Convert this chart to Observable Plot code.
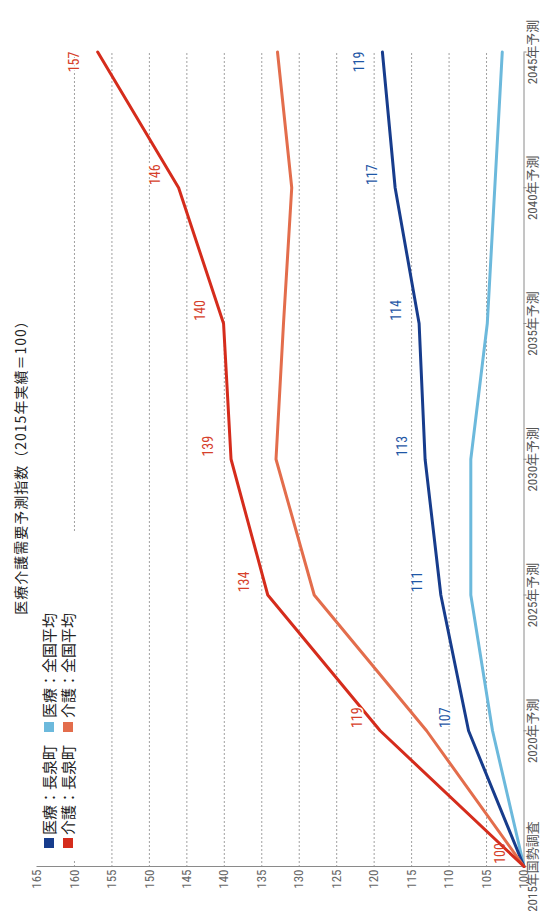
<!DOCTYPE html>
<html>
<head>
<meta charset="utf-8">
<script src="https://cdn.jsdelivr.net/npm/d3@7"></script>
<script src="https://cdn.jsdelivr.net/npm/@observablehq/plot@0.6"></script>
<style>
html, body { margin: 0; padding: 0; background: #fff; overflow: hidden; width: 541px; height: 911px; }
#wrap { position: absolute; left: 0; top: 0; width: 911px; height: 541px; transform-origin: 0 0; transform: translate(0px, 911px) rotate(-90deg); background: #fff; }
#wrap svg { position: absolute; left: 0; top: 0; }
#title { position: absolute; left: 44px; width: 806px; top: 10px; line-height: 20px; text-align: center; font-family: "Noto Sans CJK JP", sans-serif; font-size: 14px; letter-spacing: 1px; color: #222; }
#legend { position: absolute; left: 52px; top: 40px; width: 326px; height: 38px; background: #fff; font-family: "Noto Sans CJK JP", sans-serif; font-size: 15px; color: #222; }
#legend .sw { position: absolute; width: 10px; height: 10px; }
#legend .lb { position: absolute; line-height: 18px; white-space: nowrap; }
</style>
</head>
<body>
<div id="wrap">
  <div id="chart"></div>
  <div id="title"></div>
  <div id="legend"></div>
</div>
<script>
// ---- data ----
const years = [2015, 2020, 2025, 2030, 2035, 2040, 2045];
const yearLabels = ["2015年国勢調査", "2020年予測", "2025年予測", "2030年予測", "2035年予測", "2040年予測", "2045年予測"];
const valueTicks = [100, 105, 110, 115, 120, 125, 130, 135, 140, 145, 150, 155, 160, 165];
const gridTicks = [105, 110, 115, 120, 125, 130, 135, 140, 145, 150, 155, 160];

const titleText = "医療介護需要予測指数（2015年実績＝100）";
const seriesNames = ["医療：長泉町", "医療：全国平均", "介護：長泉町", "介護：全国平均"];
const seriesColors = ["#173c8c", "#6cb9dc", "#d52c1c", "#e36d4c"];
const labelColors = ["#1f57a6", "#d6402a"];

const iryoNagaizumi  = [100, 107.4, 111.1, 113.2, 114.0, 117.2, 118.9];
const iryoZenkoku    = [100, 104.2, 107.1, 107.1, 104.9, 103.9, 102.9];
const kaigoNagaizumi = [100, 119.2, 134.2, 139.1, 140.1, 146.1, 156.9];
const kaigoZenkoku   = [100, 113.0, 128.0, 133.1, 132.1, 131.0, 132.9];

const iryoNagaizumiLabels  = ["", "107", "111", "113", "114", "117", "119"];
const kaigoNagaizumiLabels = ["100", "119", "134", "139", "140", "146", "157"];

// ---- build tables ----
const seriesValues = [iryoNagaizumi, iryoZenkoku, kaigoNagaizumi, kaigoZenkoku];
const rowsOf = (i) => years.map((y, j) => ({series: seriesNames[i], year: y, value: seriesValues[i][j]}));
const labelsOf = (vals, texts) => years.map((y, j) => ({year: y, value: vals[j], text: texts[j]})).filter(d => d.text !== "");

const iryoLab = labelsOf(iryoNagaizumi, iryoNagaizumiLabels);
const kaigoLab = labelsOf(kaigoNagaizumi, kaigoNagaizumiLabels);
const lastYear = years[years.length - 1];
const firstYear = years[0];

const numFont = "'Liberation Sans Narrow', 'Roboto Condensed', 'DejaVu Sans Condensed', 'Noto Sans CJK JP', sans-serif";

const labelMarks = (data, color) => [
  Plot.text(data.filter(d => d.year === firstYear), {x: "year", y: "value", text: "text", fill: color, dx: 13, dy: -23, fontSize: 14}),
  Plot.text(data.filter(d => d.year !== firstYear && d.year !== lastYear), {x: "year", y: "value", text: "text", fill: color, dx: 13, dy: -23, fontSize: 14, stroke: "white", strokeWidth: 3}),
  Plot.text(data.filter(d => d.year === lastYear), {x: "year", y: "value", text: "text", fill: color, dx: -10, dy: -23, fontSize: 14, stroke: "white", strokeWidth: 3})
];

const chart = Plot.plot({
  width: 911,
  height: 541,
  marginLeft: 44,
  marginRight: 52.5,
  marginTop: 36.5,
  marginBottom: 17.5,
  style: {fontFamily: numFont, fontSize: "13px", color: "#555", background: "transparent", overflow: "visible"},
  x: {domain: [years[0], lastYear]},
  y: {domain: [valueTicks[0], valueTicks[valueTicks.length - 1]]},
  marks: [
    Plot.gridY(gridTicks, {stroke: "#a0a0a0", strokeOpacity: 1, strokeDasharray: "2,2"}),
    Plot.ruleY([valueTicks[0]], {stroke: "#8a8a8a", strokeWidth: 1}),
    Plot.ruleX([years[0]], {stroke: "#8a8a8a", strokeWidth: 1}),
    Plot.axisX({ticks: years, tickFormat: (d) => yearLabels[years.indexOf(d)], tickSize: 3, tickPadding: 1, stroke: "#8a8a8a", fill: "#555", fontSize: 13, label: null}),
    Plot.axisY({ticks: valueTicks, tickFormat: (d) => String(d), tickSize: 0, tickPadding: 3, fill: "#666", fontSize: 13, label: null}),
    Plot.line(rowsOf(1), {x: "year", y: "value", stroke: seriesColors[1], strokeWidth: 3, strokeLinejoin: "round"}),
    Plot.line(rowsOf(0), {x: "year", y: "value", stroke: seriesColors[0], strokeWidth: 3, strokeLinejoin: "round"}),
    Plot.line(rowsOf(3), {x: "year", y: "value", stroke: seriesColors[3], strokeWidth: 3, strokeLinejoin: "round"}),
    Plot.line(rowsOf(2), {x: "year", y: "value", stroke: seriesColors[2], strokeWidth: 3, strokeLinejoin: "round"}),
    ...labelMarks(iryoLab, labelColors[0]),
    ...labelMarks(kaigoLab, labelColors[1])
  ]
});
document.getElementById("chart").appendChild(chart);
document.getElementById("title").textContent = titleText;

// legend: two rows (医療 / 介護), two columns (長泉町 / 全国平均)
const legend = document.getElementById("legend");
const legendOrder = [[0, 1], [2, 3]];
legendOrder.forEach((row, r) => {
  row.forEach((si, c) => {
    const sw = document.createElement("div");
    sw.className = "sw";
    sw.style.background = seriesColors[si];
    sw.style.left = (11 + c * 116) + "px";
    sw.style.top = (4 + r * 19) + "px";
    legend.appendChild(sw);
    const lb = document.createElement("div");
    lb.className = "lb";
    lb.textContent = seriesNames[si];
    lb.style.left = (24 + c * 117) + "px";
    lb.style.top = (0 + r * 19) + "px";
    legend.appendChild(lb);
  });
});
</script>
</body>
</html>
